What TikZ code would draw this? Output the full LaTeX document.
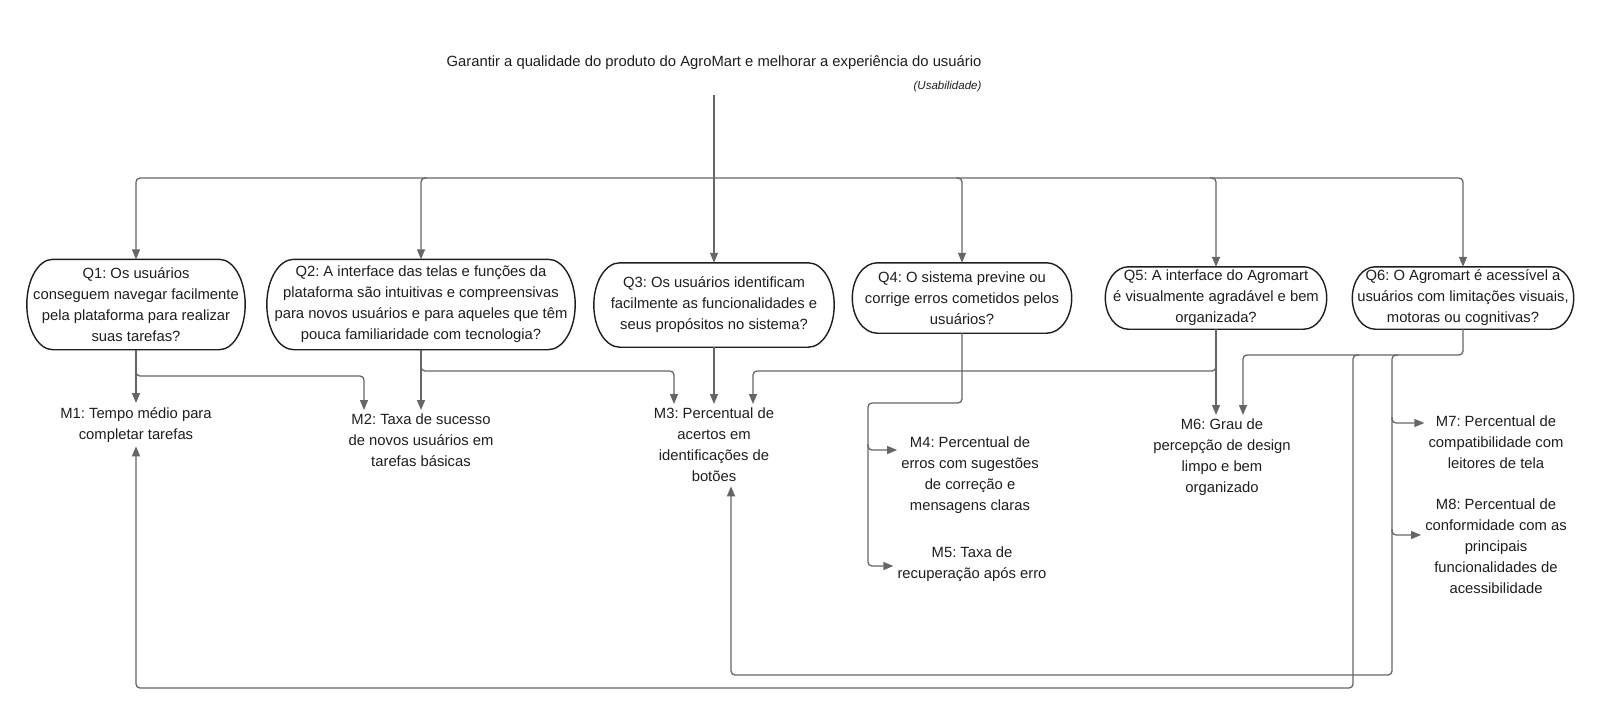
\documentclass[tikz,border=0pt]{standalone}
\usepackage{fontspec}
\setmainfont{Liberation Sans}
\usetikzlibrary{arrows.meta,calc}
\definecolor{linegray}{HTML}{666666}
\definecolor{ink}{HTML}{1E1E1E}
\frenchspacing

\tikzset{
  txt/.style={font=\fontsize{14.8}{21}\selectfont, text=ink, align=center},
  question/.style={txt, inner sep=0pt},
  metric/.style={txt, inner sep=4pt, anchor=north},
  wire/.style={draw=linegray, line width=1.3pt, rounded corners=4pt},
  link/.style={wire, -{Triangle[length=10pt,width=8pt]}},
  pillline/.style={draw=ink, line width=1.4pt},
}

% outline of a question box: straight top and bottom, elliptic ends
\newcommand\qpill[2]{%
  \draw[pillline]
    ([xshift=-#2pt]#1.north east)
      .. controls ([xshift=-0.4477*#2pt]#1.north east) and ($(#1.east)!0.5523!(#1.north east)$) .. (#1.east)
      .. controls ($(#1.east)!0.5523!(#1.south east)$) and ([xshift=-0.4477*#2pt]#1.south east) .. ([xshift=-#2pt]#1.south east)
      -- ([xshift=#2pt]#1.south west)
      .. controls ([xshift=0.4477*#2pt]#1.south west) and ($(#1.west)!0.5523!(#1.south west)$) .. (#1.west)
      .. controls ($(#1.west)!0.5523!(#1.north west)$) and ([xshift=0.4477*#2pt]#1.north west) .. ([xshift=#2pt]#1.north west)
      -- cycle;}

\begin{document}
\begin{tikzpicture}[x=1pt,y=-1pt]
\useasboundingbox (0,0) rectangle (1600,715);

% goal
\node[txt, align=right, inner sep=3pt, anchor=south] (goal) at (714,95)
  {Garantir a qualidade do produto do AgroMart e melhorar a experiência do usuário\\[2pt]
   {\fontsize{11.5}{13}\selectfont\itshape (Usabilidade)}};

% questions
\node[question, minimum width=218pt, minimum height=90pt] (Q1) at (136,304.5)
  {Q1: Os usuários\\conseguem navegar facilmente\\pela plataforma para realizar\\suas tarefas?};
\node[question, minimum width=308pt, minimum height=90pt] (Q2) at (421,304.5)
  {Q2: A interface das telas e funções da\\plataforma são intuitivas e compreensivas\\para novos usuários e para aqueles que têm\\pouca familiaridade com tecnologia?};
\node[question, minimum width=240pt, minimum height=84pt] (Q3) at (714,305)
  {Q3: Os usuários identificam\\facilmente as funcionalidades e\\seus propósitos no sistema?};
\node[question, minimum width=219pt, minimum height=70pt] (Q4) at (962,298)
  {Q4: O sistema previne ou\\corrige erros cometidos pelos\\usuários?};
\node[question, minimum width=221pt, minimum height=62pt] (Q5) at (1216,298)
  {Q5: A interface do Agromart\\é visualmente agradável e bem\\organizada?};
\node[question, minimum width=221pt, minimum height=62pt] (Q6) at (1463,298)
  {Q6: O Agromart é acessível a\\usuários com limitações visuais,\\motoras ou cognitivas?};

\qpill{Q1}{26}
\qpill{Q2}{27}
\qpill{Q3}{26}
\qpill{Q4}{25}
\qpill{Q5}{23}
\qpill{Q6}{23}

% metrics
\node[metric] (M1) at (136,403) {M1: Tempo médio para\\completar tarefas};
\node[metric] (M2) at (421,410) {M2: Taxa de sucesso\\de novos usuários em\\tarefas básicas};
\node[metric] (M3) at (714,404) {M3: Percentual de\\acertos em\\identificações de\\botões};
\node[metric] (M4) at (970,433) {M4: Percentual de\\erros com sugestões\\de correção e\\mensagens claras};
\node[metric] (M5) at (972,543) {M5: Taxa de\\recuperação após erro};
\node[metric] (M6) at (1222,415) {M6: Grau de\\percepção de design\\limpo e bem\\organizado};
\node[metric] (M7) at (1496,412) {M7: Percentual de\\compatibilidade com\\leitores de tela};
\node[metric] (M8) at (1496,495) {M8: Percentual de\\conformidade com as\\principais\\funcionalidades de\\acessibilidade};

% bend points of the connectors
\coordinate (hub) at (714,178);
\coordinate (k1) at (364,376);
\coordinate (k2) at (674,371);
\coordinate (k5) at (753,371);
\coordinate (k4) at (868,403);
\coordinate (a4) at (868,450);
\coordinate (a5) at (868,566);
\coordinate (k6) at (1243,355);
\coordinate (r1) at (1353,355);
\coordinate (r3) at (1392,355);
\coordinate (a7) at (1392,423);
\coordinate (a8) at (1392,535);
\coordinate (b1) at (136,688);
\coordinate (b3) at (731,675);

% goal to questions: one bus, short branches to the inner boxes
\draw[wire] (goal.south) -- (hub);
\draw[link] (hub) -| (Q1.north);
\draw[link] (hub) -| (Q6.north);
\draw[link] (hub) -- (Q3.north);
\draw[link] ($(hub -| Q2.north)+(6,0)$) -| (Q2.north);
\draw[link] ($(hub -| Q4.north)+(-6,0)$) -| (Q4.north);
\draw[link] ($(hub -| Q5.north)+(-6,0)$) -| (Q5.north);

% Q1
\draw[link] (Q1.south) -- (M1.north);
\draw[link] ($(Q1.south |- k1)+(0,-6)$) |- (k1) -- (k1 |- M2.north);
% Q2
\draw[link] (Q2.south) -- (M2.north);
\draw[link] ($(Q2.south |- k2)+(0,-6)$) |- (k2) -- (k2 |- M3.north);
% Q3
\draw[link] (Q3.south) -- (M3.north);
% Q4
\draw[link] (Q4.south) |- (k4) |- (M5.west |- a5);
\draw[link] ($(a4)+(0,-6)$) |- (M4.west |- a4);
% Q5
\draw[link] (Q5.south) -- (Q5.south |- M6.north);
\draw[link] ($(Q5.south |- k5)+(0,-6)$) |- (k5) -- (k5 |- M3.north);
% Q6
\draw[link] (Q6.south) |- (k6) -- (k6 |- M6.north);
\draw[link] ($(r1)+(6,0)$) -- (r1) |- (b1) -- (M1.south);
\draw[link] ($(r3)+(6,0)$) -- (r3) |- (b3) -- (b3 |- M3.south);
\draw[link] ($(a7)+(0,-6)$) |- (M7.west |- a7);
\draw[link] ($(a8)+(0,-6)$) |- (M8.west |- a8);
\end{tikzpicture}
\end{document}
